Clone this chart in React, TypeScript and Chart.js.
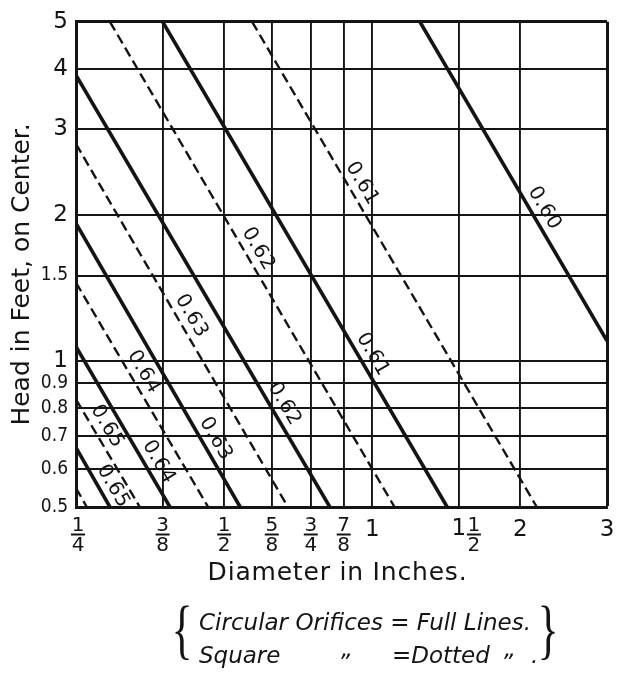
import React, { useEffect, useRef } from "react";
import { Chart, registerables } from "chart.js";

Chart.register(...registerables);

// ---- data (diameter in inches, head in feet) ----
const CIRCULAR_COEFFS = ["0.60", "0.61", "0.62", "0.63", "0.64", "0.65"];
const CIRCULAR_DIAM_START = [1.25, 0.375, 0.25, 0.25, 0.25, 0.25];
const CIRCULAR_HEAD_START = [5, 5, 3.88, 1.92, 1.07, 0.663];
const CIRCULAR_DIAM_END = [3, 1.42, 0.82, 0.539, 0.388, 0.293];
const CIRCULAR_HEAD_END = [1.1, 0.5, 0.5, 0.5, 0.5, 0.5];
const CIRCULAR_LABEL_HEAD = [2.0, 1.0, 0.79, 0.67, 0.6, 0.535];

const SQUARE_COEFFS = ["0.61", "0.62", "0.63", "0.64", "0.65", ""];
const SQUARE_DIAM_START = [0.57, 0.293, 0.25, 0.25, 0.25, 0.25];
const SQUARE_HEAD_START = [5, 5, 2.8, 1.45, 0.833, 0.547];
const SQUARE_DIAM_END = [2.16, 1.11, 0.674, 0.464, 0.337, 0.263];
const SQUARE_HEAD_END = [0.5, 0.5, 0.5, 0.5, 0.5, 0.5];
const SQUARE_LABEL_HEAD = [2.25, 1.65, 1.2, 0.92, 0.71, 0];

const X_TICKS = [0.25, 0.375, 0.5, 0.625, 0.75, 0.875, 1, 1.5, 2, 3];
const X_TICK_LABELS = ["1/4", "3/8", "1/2", "5/8", "3/4", "7/8", "1", "1 1/2", "2", "3"];
const Y_TICKS = [0.5, 0.6, 0.7, 0.8, 0.9, 1, 1.5, 2, 3, 4, 5];
const Y_TICK_LABELS = ["0.5", "0.6", "0.7", "0.8", "0.9", "1", "1.5", "2", "3", "4", "5"];

const X_TITLE = "Diameter in Inches.";
const Y_TITLE = "Head in Feet, on Center.";
const LEGEND_LINE1 = "Circular Orifices = Full Lines.";
const LEGEND_LINE2 = ["Square", "„", "=Dotted", "„", "."];

// ---- styling ----
const W = 622;
const H = 679;
const INK = "#141414";
const SANS = "'DejaVu Sans', 'Liberation Sans', sans-serif";
const NARROW = "'Liberation Sans Narrow', 'DejaVu Sans Condensed', 'DejaVu Sans', sans-serif";

function dAtHead(i: number, ds: number[], de: number[], hs: number[], he: number[], h: number) {
  const t = (Math.log(h) - Math.log(hs[i])) / (Math.log(he[i]) - Math.log(hs[i]));
  return Math.exp(Math.log(ds[i]) + t * (Math.log(de[i]) - Math.log(ds[i])));
}

const annotate = {
  id: "annotate",
  afterDatasetsDraw(chart: any) {
    const ctx: CanvasRenderingContext2D = chart.ctx;
    const xs = chart.scales.x;
    const ys = chart.scales.y;
    const ca = chart.chartArea;
    ctx.save();
    ctx.fillStyle = INK;
    ctx.strokeStyle = INK;

    // labels along lines
    const lineLabels = (
      coeffs: string[], ds: number[], de: number[], hs: number[], he: number[], lh: number[]
    ) => {
      coeffs.forEach((txt, i) => {
        if (!txt || !lh[i]) return;
        const d = dAtHead(i, ds, de, hs, he, lh[i]);
        const px = xs.getPixelForValue(d);
        const py = ys.getPixelForValue(lh[i]);
        const x0 = xs.getPixelForValue(ds[i]);
        const y0 = ys.getPixelForValue(hs[i]);
        const x1 = xs.getPixelForValue(de[i]);
        const y1 = ys.getPixelForValue(he[i]);
        const ang = Math.atan2(y1 - y0, x1 - x0);
        ctx.save();
        ctx.translate(px, py);
        ctx.rotate(ang);
        ctx.font = `20px ${SANS}`;
        (ctx as any).letterSpacing = "0.5px";
        ctx.textAlign = "center";
        ctx.textBaseline = "middle";
        ctx.fillText(txt, 0, -13);
        ctx.restore();
      });
    };
    lineLabels(CIRCULAR_COEFFS, CIRCULAR_DIAM_START, CIRCULAR_DIAM_END, CIRCULAR_HEAD_START, CIRCULAR_HEAD_END, CIRCULAR_LABEL_HEAD);
    lineLabels(SQUARE_COEFFS, SQUARE_DIAM_START, SQUARE_DIAM_END, SQUARE_HEAD_START, SQUARE_HEAD_END, SQUARE_LABEL_HEAD);

    // x tick labels (stacked fractions)
    const base = ca.bottom;
    const frac = (cx: number, num: string, den: string) => {
      ctx.font = `20px ${SANS}`;
      ctx.textAlign = "center";
      ctx.textBaseline = "alphabetic";
      ctx.fillText(num, cx, base + 24);
      ctx.fillText(den, cx, base + 44);
      ctx.lineWidth = 2;
      ctx.beginPath();
      ctx.moveTo(cx - 7, base + 27.5);
      ctx.lineTo(cx + 7, base + 27.5);
      ctx.stroke();
    };
    X_TICKS.forEach((v, i) => {
      const cx = xs.getPixelForValue(v);
      const lab = X_TICK_LABELS[i];
      const parts = lab.split(" ");
      if (parts.length === 2) {
        ctx.font = `23px ${SANS}`;
        ctx.textAlign = "center";
        ctx.textBaseline = "alphabetic";
        ctx.fillText(parts[0], cx, base + 28);
        const [n, dd] = parts[1].split("/");
        frac(cx + 15, n, dd);
      } else if (lab.includes("/")) {
        const [n, dd] = lab.split("/");
        frac(i === 0 ? cx + 2 : cx, n, dd);
      } else {
        ctx.font = `23px ${SANS}`;
        ctx.textAlign = "center";
        ctx.textBaseline = "alphabetic";
        ctx.fillText(lab, cx, base + 29);
      }
    });

    // axis titles
    ctx.font = `25px ${SANS}`;
    (ctx as any).letterSpacing = "0.8px";
    ctx.textAlign = "center";
    ctx.textBaseline = "alphabetic";
    ctx.fillText(X_TITLE, (ca.left + ca.right) / 2 - 4, base + 73);

    ctx.save();
    ctx.translate(22, (ca.top + ca.bottom) / 2 + 10);
    ctx.rotate(-Math.PI / 2);
    (ctx as any).letterSpacing = "0px";
    ctx.textBaseline = "middle";
    ctx.fillText(Y_TITLE, 0, 0);
    ctx.restore();

    // legend note
    (ctx as any).letterSpacing = "0px";
    ctx.textAlign = "left";
    ctx.font = `italic 23px ${SANS}`;
    ctx.fillText(LEGEND_LINE1, 199, 630);
    const l2x = [199, 341, 392, 504, 531];
    const l2y = [663, 656, 663, 656, 663];
    LEGEND_LINE2.forEach((s, k) => ctx.fillText(s, l2x[k], l2y[k]));
    ctx.textAlign = "center";
    ctx.font = `44px 'Liberation Serif', serif`;
    [[182, "{"], [548, "}"]].forEach(([bx, ch]) => {
      ctx.save();
      ctx.translate(bx as number, 651);
      ctx.scale(1, 1.5);
      ctx.fillText(ch as string, 0, 0);
      ctx.restore();
    });

    ctx.restore();
  },
};

export default function App() {
  const ref = useRef<HTMLCanvasElement>(null);

  useEffect(() => {
    document.body.style.margin = "0";
    const canvas = ref.current!;
    const datasets: any[] = [];
    CIRCULAR_COEFFS.forEach((c, i) => {
      datasets.push({
        label: `Circular ${c}`,
        data: [
          { x: CIRCULAR_DIAM_START[i], y: CIRCULAR_HEAD_START[i] },
          { x: CIRCULAR_DIAM_END[i], y: CIRCULAR_HEAD_END[i] },
        ],
        showLine: true,
        borderColor: INK,
        borderWidth: 3.6,
        pointRadius: 0,
        fill: false,
      });
    });
    SQUARE_COEFFS.forEach((c, i) => {
      datasets.push({
        label: `Square ${c}`,
        data: [
          { x: SQUARE_DIAM_START[i], y: SQUARE_HEAD_START[i] },
          { x: SQUARE_DIAM_END[i], y: SQUARE_HEAD_END[i] },
        ],
        showLine: true,
        borderColor: INK,
        borderWidth: 2.4,
        borderDash: [10, 5],
        pointRadius: 0,
        fill: false,
      });
    });

    const chart = new Chart(canvas, {
      type: "scatter",
      data: { datasets },
      plugins: [annotate],
      options: {
        animation: false,
        responsive: false,
        maintainAspectRatio: false,
        layout: { padding: { top: 16, right: 15, left: 0, bottom: 0 } },
        plugins: { legend: { display: false }, tooltip: { enabled: false }, title: { display: false } },
        scales: {
          x: {
            type: "logarithmic",
            min: 0.25,
            max: 3,
            afterBuildTicks: (s: any) => {
              s.ticks = X_TICKS.map((v) => ({ value: v }));
            },
            afterFit: (s: any) => {
              s.height = 172;
            },
            ticks: { display: false },
            grid: {
              color: INK,
              lineWidth: (c: any) => (c.tick && c.tick.value === 3 ? 3 : 1.9),
              drawTicks: false,
            },
            border: { display: true, color: INK, width: 3 },
          },
          y: {
            type: "logarithmic",
            min: 0.5,
            max: 5,
            afterBuildTicks: (s: any) => {
              s.ticks = Y_TICKS.map((v) => ({ value: v }));
            },
            afterFit: (s: any) => {
              s.width = 76;
            },
            ticks: {
              autoSkip: false,
              padding: 8,
              color: INK,
              callback: (v: any) => {
                const k = Y_TICKS.findIndex((t) => Math.abs(t - Number(v)) < 1e-9);
                return k >= 0 ? Y_TICK_LABELS[k] : "";
              },
              font: (c: any) => {
                const v = c.tick ? c.tick.value : 1;
                return Number.isInteger(v)
                  ? { family: SANS, size: 23 }
                  : { family: NARROW, size: 19 };
              },
            },
            grid: {
              color: INK,
              lineWidth: (c: any) => (c.tick && c.tick.value === 5 ? 3 : 1.9),
              drawTicks: false,
            },
            border: { display: true, color: INK, width: 3 },
          },
        },
      },
    } as any);
    return () => chart.destroy();
  }, []);

  return (
    <div style={{ width: W, height: H, background: "#fff" }}>
      <canvas ref={ref} width={W} height={H} style={{ width: W, height: H, display: "block" }} />
    </div>
  );
}
